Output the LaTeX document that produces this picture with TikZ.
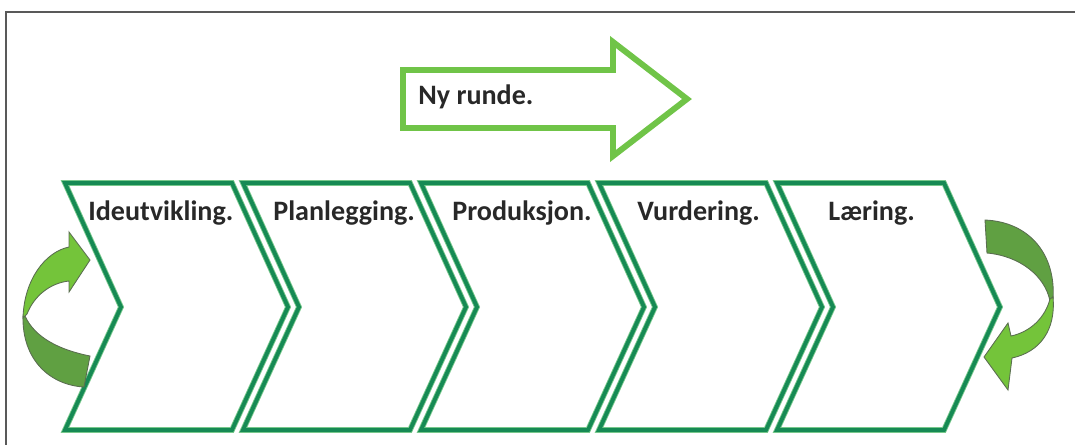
\documentclass[tikz,border=0pt]{standalone}
\usepackage{fontspec}
\setmainfont{Carlito}
\usepackage{tikz}
\definecolor{chevgreen}{RGB}{22,138,84}
\definecolor{chevglow}{RGB}{120,200,140}
\definecolor{nygreen}{RGB}{112,196,72}
\definecolor{backgreen}{RGB}{96,160,66}
\definecolor{frontgreen}{RGB}{116,196,58}
\definecolor{edgegray}{RGB}{90,110,80}
\definecolor{textgray}{RGB}{40,40,40}
\tikzstyle{chevron}=[draw=chevgreen, line width=2.2pt, line join=miter,
    preaction={draw=chevglow, line width=3.2pt}]
\tikzstyle{lbl}=[anchor=base west, inner sep=0pt, text=textgray,
    font=\bfseries\fontsize{16}{19}\selectfont]
\tikzstyle{back}=[fill=backgreen, draw=edgegray, line width=0.5pt]
\tikzstyle{front}=[fill=frontgreen, draw=edgegray, line width=0.5pt]

\begin{document}
\begin{tikzpicture}[x=0.02cm, y=-0.02cm]
  \useasboundingbox (0,0) rectangle (1075,444);
  \clip (0,0) rectangle (1075,444);
  \draw[line width=1.2pt, draw=black!65] (6,12) rectangle (1090,460);

  % top arrow
  \draw[draw=nygreen, line width=3.4pt, line join=miter]
    (403,70) -- (613,70) -- (613,42) -- (687,99) -- (613,156) -- (613,128) -- (403,128) -- cycle;
  \node[lbl] at (418,104) (ny) {Ny runde.};

  % chevrons
  \draw[chevron] (65,183) -- (232,183) -- (288,307) -- (232,430) -- (65,430) -- (121,307) -- cycle;
  \draw[chevron] (243,183) -- (410,183) -- (466,307) -- (410,430) -- (243,430) -- (299,307) -- cycle;
  \draw[chevron] (421,183) -- (588,183) -- (644,307) -- (588,430) -- (421,430) -- (477,307) -- cycle;
  \draw[chevron] (599,183) -- (766,183) -- (822,307) -- (766,430) -- (599,430) -- (655,307) -- cycle;
  \draw[chevron] (777,183) -- (944,183) -- (1000,307) -- (944,430) -- (777,430) -- (833,307) -- cycle;

  \node[lbl] at (88,220) (ide) {Ideutvikling.};
  \node[lbl] at (273,220) (plan) {Planlegging.};
  \node[lbl] at (452,220) (prod) {Produksjon.};
  \node[lbl] at (637,220) (vurd) {Vurdering.};
  \node[lbl] at (828,220) (laer) {Læring.};

  % left curved arrow
  \path[back] (23,316) .. controls (22,360) and (50,385) .. (84,387) -- (90,356)
    .. controls (60,350) and (35,338) .. (25,316) -- cycle;
  \path[front] (23,318) .. controls (24,280) and (45,252) .. (69,247) -- (69,232) -- (90,260)
    -- (69,292) -- (69,281) .. controls (50,283) and (34,296) .. (27,314) -- cycle;

  % right curved arrow
  \path[back] (985,220) .. controls (1030,222) and (1056,255) .. (1053,299) -- (1050,301)
    .. controls (1045,276) and (1020,256) .. (987,253) -- cycle;
  \path[front] (1053,297) .. controls (1056,330) and (1040,352) .. (1012,358) -- (1008,390)
    -- (984,357) -- (1008,323) -- (1011,336) .. controls (1030,332) and (1045,318) .. (1050,299) -- cycle;
\end{tikzpicture}
\end{document}
